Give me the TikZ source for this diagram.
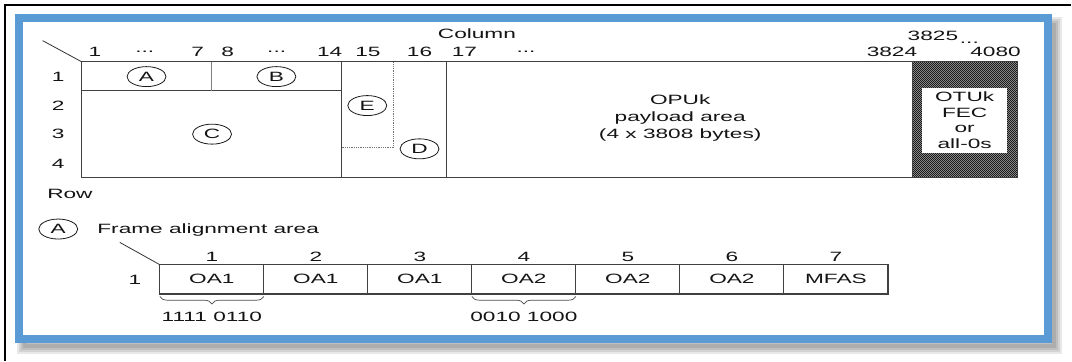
\documentclass[tikz,border=0pt]{standalone}
\usepackage{fontspec}
\setmainfont{Liberation Sans}[FakeStretch=1.68]
\usetikzlibrary{shapes.geometric,patterns,decorations.pathreplacing}
\definecolor{framebl}{RGB}{91,155,213}
\definecolor{ink}{RGB}{20,20,20}
\newcommand{\coldots}{...}
\pgfdeclarepatternformonly{finechecker}{\pgfpointorigin}{\pgfqpoint{2pt}{2pt}}{\pgfqpoint{2pt}{2pt}}{%
    \pgfpathrectangle{\pgfpointorigin}{\pgfqpoint{1pt}{1pt}}%
    \pgfpathrectangle{\pgfqpoint{1pt}{1pt}}{\pgfqpoint{1pt}{1pt}}%
    \pgfusepath{fill}}

\begin{document}
\begin{tikzpicture}[x=1pt, y=-1pt,
    every node/.style={font=\fontsize{13.5}{15.5}\selectfont, text=ink, inner sep=0pt},
    gridline/.style={draw=black!75, line width=1.1pt},
    dotline/.style={draw=black!55, line width=0.8pt, densely dotted},
    diag/.style={draw=black!80, line width=0.8pt},
    tag/.style={draw=black!90, line width=0.8pt, ellipse, minimum width=39, minimum height=20},
    cell/.style={draw=black!75, line width=1.1pt, minimum width=104.14, minimum height=29.3, outer sep=0pt},
    bytebrace/.style={draw=black!70, line width=0.7pt, decorate, decoration={brace, mirror, amplitude=7.5}}]
    %
    \fill[white] (0,0) rectangle (1072,361);
    \draw[line width=2.5pt] (5,361) -- (5,5) -- (1072,5);

    % blue frame with soft shadow
    \foreach \w in {16,12,8,4}
        \draw[black, opacity=0.09, line width=\w pt] (25,25) rectangle (1055,346);
    \fill[white] (23,22) rectangle (1045,335);
    \draw[framebl, line width=8pt] (19,18) rectangle (1049,339);

    % frame grid
    \coordinate (TL) at (82,62);
    \coordinate (BR) at (1019,178);
    \coordinate (FL) at (914,62);
    \coordinate (corner) at (42.7,40.7);

    \fill[black!40] (FL) rectangle (BR);
    \fill[pattern=finechecker, pattern color=black!90] (FL) rectangle (BR);

    \draw[gridline] (TL) rectangle (BR);
    \draw[gridline] (FL) -- (914,178);
    \draw[gridline] (82,91) -- (342,91);
    \draw[gridline, draw=black!50] (212,62) -- (212,91);
    \draw[gridline] (342,62) -- (342,178);
    \draw[gridline] (447,62) -- (447,178);
    \draw[dotline] (342,148) -- (394,148) -- (394,62);
    \draw[diag] (corner) -- (TL);

    % labels of the areas
    \node[tag] (tagA) at (146.7,76.7) {A};
    \node[tag] (tagB) at (276.7,76.7) {B};
    \node[tag] (tagC) at (212.3,134.3) {C};
    \node[tag] (tagE) at (367.7,105.7) {E};
    \node[tag] (tagD) at (420,149) {D};

    \node[align=center, font=\fontsize{13.5}{17}\selectfont] (opu) at (681,118.5)
        {OPUk\\payload area\\(4 x 3808 bytes)};
    \node[fill=white, minimum width=85, minimum height=65, align=center] (fec) at (965.8,120.2)
        {OTUk\\FEC\\or\\all-0s};

    % columns and rows
    \node (column) at (477.5,34) {Column};
    \foreach \t/\x [count=\k] in {1/95, \coldots/145, 7/198, 8/228, \coldots/277, 14/330,
        15/368.3, 16/420, 17/465, \coldots/526.7, 3824/893, 4080/996.7}
        \node (col\k) at (\x,52.3) {\t};
    \node (col3825) at (934,35.7) {3825};
    \node (colend) at (970.5,42.5) {\coldots};
    \foreach \r/\y in {1/76.7, 2/106, 3/134.3, 4/164}
        \node (row\r) at (58.3,\y) {\r};
    \node (rowlabel) at (70,194) {Row};

    % frame alignment area
    \node[tag] (tagAA) at (58.3,229.3) {A};
    \node[anchor=base west] (fatext) at (97.3,233.9) {Frame alignment area};
    \foreach \t [count=\i] in {OA1,OA1,OA1,OA2,OA2,OA2,MFAS} {
        \node[cell] (c\i) at (107.93+104.14*\i,279.65) {\t};
        \node (n\i) at (107.93+104.14*\i,257.3) {\i};
    }
    \node (fa1) at (135,280) {1};
    \coordinate (fcorner) at (120,242.7);
    \draw[diag] (fcorner) -- (c1.north west);

    \draw[bytebrace] ([yshift=-2.5]c1.south west) -- ([yshift=-2.5]c1.south east);
    \draw[bytebrace] ([yshift=-2.5]c4.south west) -- ([yshift=-2.5]c4.south east);
    \node (oa1bits) at ([yshift=-23]c1.south) {1111 0110};
    \node (oa2bits) at ([yshift=-23]c4.south) {0010 1000};

\end{tikzpicture}
\end{document}
